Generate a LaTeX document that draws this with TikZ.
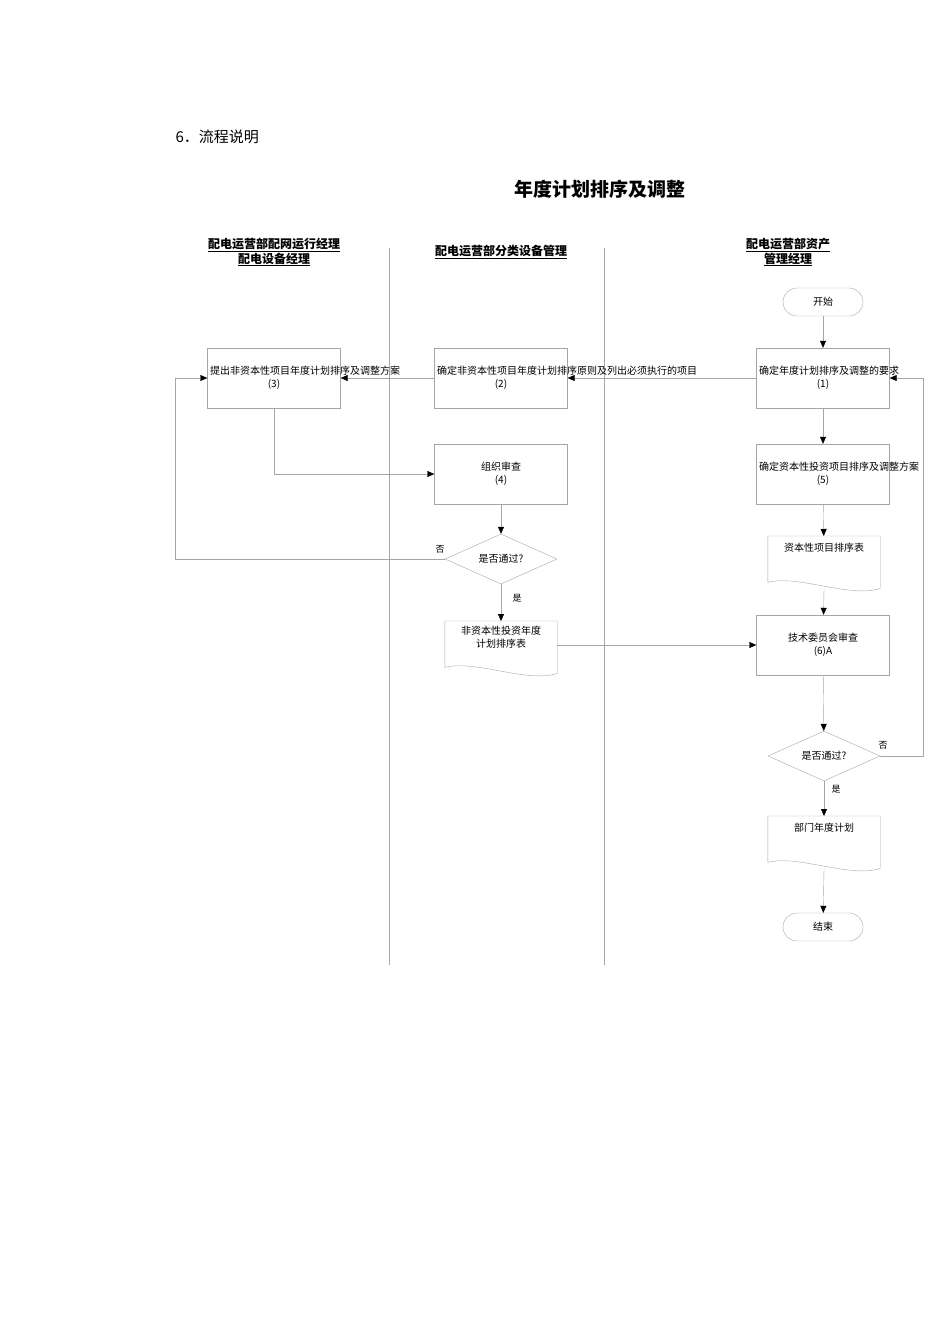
\documentclass[tikz,border=0pt]{standalone}
\usepackage{fontspec}
\setmainfont{Noto Sans CJK SC}
\usetikzlibrary{shapes.geometric,arrows.meta}
\begin{document}
\begin{tikzpicture}[x=1pt,y=-1pt,
  box/.style={draw=gray!70,minimum width=133pt,minimum height=60pt,align=center,font=\fontsize{10}{13}\selectfont,inner sep=2pt,text width=128pt},
  term/.style={draw=gray!70,rounded corners=14pt,minimum width=80pt,minimum height=28pt,font=\fontsize{10}{12}\selectfont},
  dia/.style={draw=gray!70,diamond,aspect=2.2,minimum width=112pt,minimum height=50pt,inner sep=0pt,font=\fontsize{10}{12}\selectfont},
  docn/.style={minimum width=112pt,minimum height=46pt,align=center,font=\fontsize{10}{13}\selectfont,inner sep=2pt},
  arr/.style={draw=gray!70,-{Triangle[black,length=7pt,width=6pt]}},
  ln/.style={draw=gray!70},
  hd/.style={font=\bfseries\fontsize{12}{15}\selectfont,align=center},
  lbl/.style={font=\fontsize{9}{10}\selectfont}]
\useasboundingbox (0,0) rectangle (950,1344);
\newcommand{\docshape}[1]{\draw[gray!70] (#1.north west) -- (#1.north east) -- ([yshift=-6pt]#1.south east) .. controls ([xshift=-30pt,yshift=-16pt]#1.south east) and ([xshift=30pt,yshift=8pt]#1.south west) .. (#1.south west) -- cycle;}
\node[anchor=west,font=\fontsize{15}{18}\selectfont] (sec) at (172,137) {6．流程说明};
\node[font=\bfseries\fontsize{19}{22}\selectfont] (title) at (600,189) {年度计划排序及调整};
\node[hd] (h1) at (274,252) {\underline{配电运营部配网运行经理}\\\underline{配电设备经理}};
\node[hd] (h2) at (501,252) {\underline{配电运营部分类设备管理}};
\node[hd] (h3) at (788,252) {\underline{配电运营部资产}\\\underline{管理经理}};
\coordinate (l1a) at (389,248); \coordinate (l1b) at (389,965);
\coordinate (l2a) at (604,248); \coordinate (l2b) at (604,965);
\draw[ln] (l1a) -- (l1b); \draw[ln] (l2a) -- (l2b);
\node[term] (start) at (823,302) {开始};
\node[box] (n1) at (823,378) {确定年度计划排序及调整的要求\\(1)};
\node[box] (n2) at (501,378) {确定非资本性项目年度计划排序原则及列出必须执行的项目\\(2)};
\node[box] (n3) at (274,378) {提出非资本性项目年度计划排序及调整方案\\(3)};
\node[box] (n4) at (501,474) {组织审查\\(4)};
\node[box] (n5) at (823,474) {确定资本性投资项目排序及调整方案\\(5)};
\node[docn,anchor=north] (dc) at (824,536) {资本性项目排序表\\[10pt]};
\docshape{dc}
\node[dia] (d1) at (501,559) {是否通过?};
\node[docn,anchor=north] (dn) at (501,621) {非资本性投资年度\\计划排序表\\[2pt]};
\docshape{dn}
\node[box] (n6) at (823,645) {技术委员会审查\\(6)A};
\node[dia] (d2) at (824,756) {是否通过?};
\node[docn,anchor=north] (dd) at (824,816) {部门年度计划\\[10pt]};
\docshape{dd}
\node[term] (end) at (823,927) {结束};
\coordinate (c1) at (274,474);
\coordinate (c2) at (175,559); \coordinate (c3) at (175,378);
\coordinate (c4) at (923,756); \coordinate (c5) at (923,378);
\draw[arr] (start) -- (n1);
\draw[arr] (n1) -- (n2);
\draw[arr] (n2) -- (n3);
\draw[arr] (n3.south) -- (c1) -- (n4.west);
\draw[arr] (n4) -- (d1);
\draw[arr] (d1.west) -- (c2) -- (c3) -- (n3.west);
\node[lbl] (no1) at (440,549) {否};
\draw[arr] (d1.south) -- (dn.north);
\node[lbl] (yes1) at (517,598) {是};
\draw[arr] (dn.east |- n6) -- (n6.west);
\draw[arr] (n1) -- (n5);
\draw[arr] (n5) -- (dc);
\draw[arr] ([yshift=-6pt]dc.south) -- (n6);
\draw[arr] (n6) -- (d2);
\draw[arr] (d2.east) -- (c4) -- (c5) -- (n1.east);
\node[lbl] (no2) at (883,745) {否};
\draw[arr] (d2.south) -- (dd.north);
\node[lbl] (yes2) at (836,789) {是};
\draw[arr] ([yshift=-6pt]dd.south) -- (end);
\end{tikzpicture}
\end{document}
